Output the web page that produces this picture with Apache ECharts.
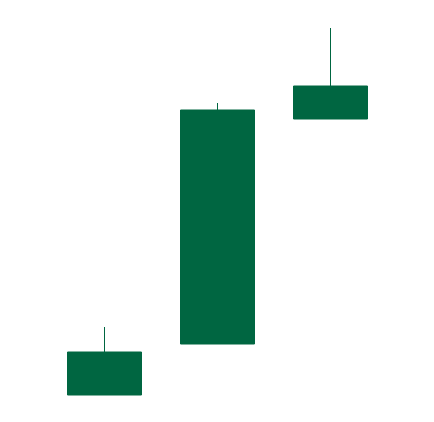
<!DOCTYPE html>
<html><head><meta charset="utf-8">
<script src="https://cdn.jsdelivr.net/npm/echarts@6/dist/echarts.min.js"></script>
<style>html,body{margin:0;padding:0;background:#fff}#c{width:434px;height:422px}</style>
</head><body><div id="c"></div>
<script>
const categories = ['A', 'B', 'C'];
const openValues = [0, 51, 276];
const closeValues = [43, 285, 309];
const lowValues = [0, 51, 276];
const highValues = [68, 292, 367];

const data = categories.map((c, i) => [openValues[i], closeValues[i], lowValues[i], highValues[i]]);
const chart = echarts.init(document.getElementById('c'));
chart.setOption({
  animation: false,
  backgroundColor: '#ffffff',
  grid: { left: 48, right: 47, top: 28, bottom: 27 },
  xAxis: { type: 'category', data: categories, show: false, boundaryGap: true },
  yAxis: { type: 'value', min: 0, max: 367, show: false, splitLine: { show: false } },
  series: [{
    type: 'candlestick',
    data: data,
    barWidth: '66.4%',
    itemStyle: { color: '#006641', color0: '#006641', borderColor: '#006641', borderColor0: '#006641', borderWidth: 1 }
  }]
});
</script></body></html>
